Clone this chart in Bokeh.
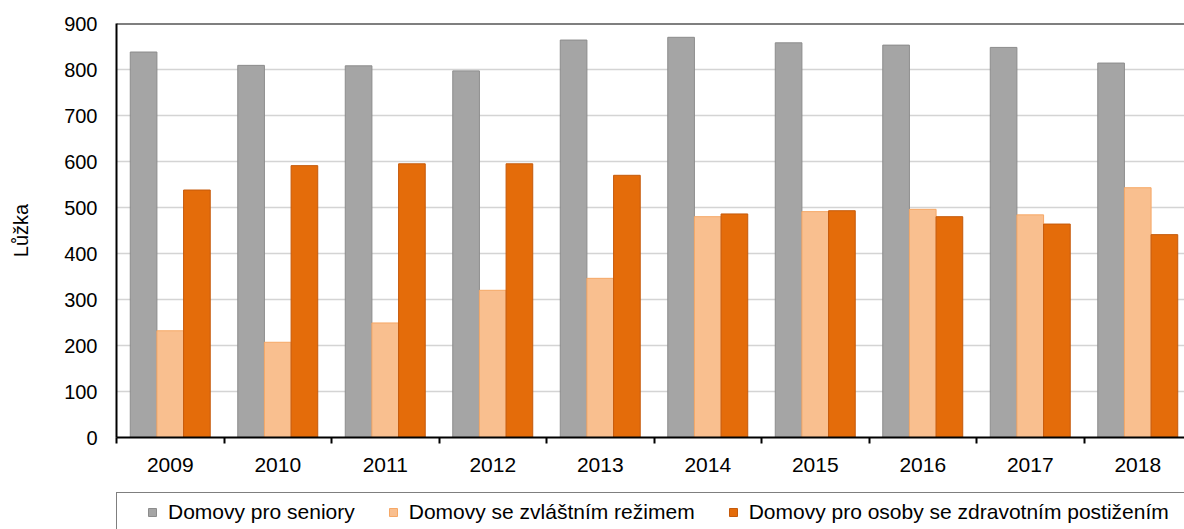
from bokeh.plotting import figure
from bokeh.models import (Range1d, FixedTicker, Legend, LegendItem, Span,
                          ColumnDataSource, LinearAxis)
from bokeh.layouts import column
from bokeh.transform import dodge
from bokeh.embed import file_html
from bokeh.resources import INLINE

# ---- data ----
years = ["2009", "2010", "2011", "2012", "2013", "2014", "2015", "2016", "2017", "2018"]
seniory = [838, 809, 808, 797, 864, 870, 858, 853, 848, 814]
zvlastni = [232, 207, 249, 320, 346, 480, 491, 496, 484, 543]
postizeni = [538, 591, 595, 595, 570, 486, 493, 480, 464, 441]
series_names = ["Domovy pro seniory", "Domovy se zvláštním režimem",
                "Domovy pro osoby se zdravotním postižením"]
y_ticks = [0, 100, 200, 300, 400, 500, 600, 700, 800, 900]
y_title = "Lůžka"

FONT = "Liberation Sans"
W = 1184
H1, H2 = 482, 47
LEFT = 116
CAT_PX = 107.5
BAR_W = 0.248
colors_fill = ["#A5A5A5", "#F9BF8F", "#E46C0A"]
colors_line = ["#8C8C8C", "#F6A866", "#C55A0B"]

xc = [i + 0.5 for i in range(len(years))]
src = ColumnDataSource(dict(x=xc, a=seniory, b=zvlastni, c=postizeni))

p = figure(width=W, height=H1, output_backend="svg", toolbar_location=None,
           x_range=Range1d(0, (W - LEFT) / CAT_PX), y_range=Range1d(0, 900),
           min_border_left=LEFT, min_border_right=0, min_border_top=23,
           min_border_bottom=H1 - 437)
p.outline_line_color = None
p.background_fill_color = "white"
p.border_fill_color = "white"

for off, col, fc, lc in zip([-BAR_W, 0, BAR_W], ["a", "b", "c"], colors_fill, colors_line):
    p.vbar(x=dodge("x", off, range=p.x_range), top=col, width=BAR_W, source=src,
           fill_color=fc, line_color=lc, line_width=1)

# grid
p.xgrid.visible = False
p.ygrid.ticker = FixedTicker(ticks=y_ticks)
p.ygrid.grid_line_color = "#D4D4D4"
p.ygrid.grid_line_width = 1.5

# x axis
xa = p.xaxis[0]
xa.ticker = FixedTicker(ticks=xc, minor_ticks=list(range(len(years) + 1)))
xa.major_label_overrides = {x: y for x, y in zip(xc, years)}
xa.major_tick_out = 0
xa.major_tick_in = 0
xa.minor_tick_out = 6
xa.minor_tick_in = 0
xa.minor_tick_line_color = "black"
xa.minor_tick_line_width = 2
xa.axis_line_color = "black"
xa.axis_line_width = 2
xa.major_label_text_font = FONT
xa.major_label_text_font_size = "21px"
xa.major_label_text_color = "black"
xa.major_label_standoff = 14

# y axis
ya = p.yaxis[0]
ya.ticker = FixedTicker(ticks=y_ticks)
ya.major_tick_out = 0
ya.major_tick_in = 0
ya.minor_tick_out = 0
ya.minor_tick_in = 0
ya.axis_line_color = "black"
ya.axis_line_width = 2
ya.major_label_text_font = FONT
ya.major_label_text_font_size = "20px"
ya.major_label_text_color = "black"
ya.major_label_standoff = 19

# y title on its own bare axis
ta = LinearAxis(ticker=FixedTicker(ticks=[489]), bounds=(78, 900),
                axis_line_color=None, major_tick_out=0, major_tick_in=0,
                minor_tick_out=0, minor_tick_in=0, major_label_text_alpha=0,
                major_label_text_font_size="1px", major_label_standoff=0,
                axis_label=y_title, axis_label_standoff=30,
                axis_label_text_font=FONT, axis_label_text_font_size="20px",
                axis_label_text_font_style="normal", axis_label_text_color="black")
ta.major_label_overrides = {489: ""}
p.add_layout(ta, "left")

# top border line
p.add_layout(Span(location=900, dimension="width", line_color="black", line_width=2))

# ---- legend strip (its own bars lie outside its visible range) ----
p2 = figure(width=W, height=H2, output_backend="svg", toolbar_location=None,
            x_range=Range1d(0, 10), y_range=Range1d(2000, 2001),
            x_axis_location=None, y_axis_location=None,
            min_border_left=0, min_border_right=0, min_border_top=0, min_border_bottom=0)
p2.outline_line_color = None
p2.xgrid.visible = False
p2.ygrid.visible = False
p2.background_fill_color = "white"
p2.border_fill_color = "white"

leg_renderers = [p2.vbar(x="x", top=col, width=BAR_W, source=src,
                         fill_color=fc, line_color=lc, line_width=1)
                 for col, fc, lc in zip(["a", "b", "c"], colors_fill, colors_line)]

legend = Legend(items=[LegendItem(label=n, renderers=[r])
                       for n, r in zip(series_names, leg_renderers)],
                orientation="horizontal", location=(0, -5),
                glyph_width=10, glyph_height=10, label_standoff=11, spacing=33,
                border_line_color="black", border_line_width=1,
                background_fill_color="white", background_fill_alpha=1,
                label_text_font=FONT, label_text_font_size="21px",
                label_text_color="black", margin=0)
try:
    legend.padding = dict(top=7, bottom=9, left=30, right=30)
except Exception:
    legend.padding = 9
p2.add_layout(legend)

layout = column(p, p2, spacing=0)
open("out.html", "w").write(file_html(layout, INLINE))
